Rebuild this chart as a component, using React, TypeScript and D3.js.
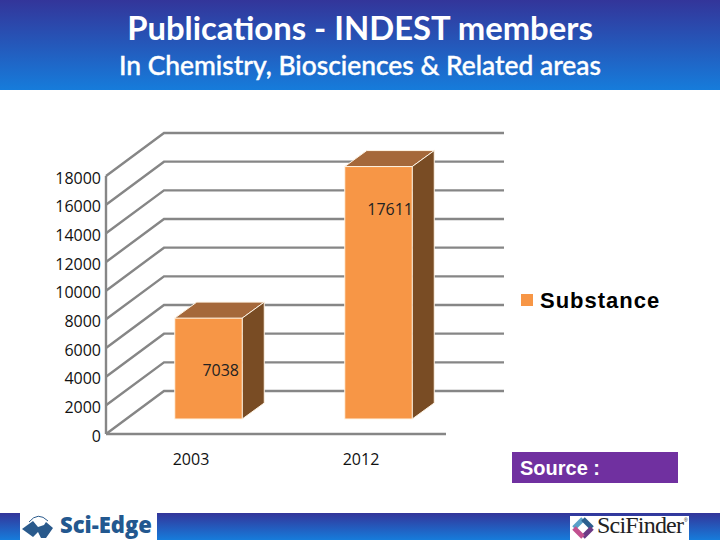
import { useEffect, useRef } from 'react'
import * as d3 from 'd3'

const YEARS = ['2003', '2012']
const SUBSTANCE = [7038, 17611]
const Y_TICKS = [0, 2000, 4000, 6000, 8000, 10000, 12000, 14000, 16000, 18000]
const SERIES_NAME = 'Substance'
const TITLE = 'Publications - INDEST members'
const SUBTITLE = 'In Chemistry, Biosciences & Related areas'

const W = 720
const H = 540
// 3d offset of the back wall, and of the front face of the bars
const DEPTH_X = 58
const DEPTH_Y = -43
const BAR_DX = 17.5
const BAR_DY = -15
const BAR_W = 67.5
const SIDE_X = 22
const SIDE_Y = -16
// data labels were placed by hand in the original
const LABEL_RIGHT = [239, 413]
const LABEL_BASE = [376, 215]

export default function App() {
  const ref = useRef<SVGSVGElement>(null)

  useEffect(() => {
    const svg = d3.select(ref.current)
    svg.selectAll('*').remove()

    const defs = svg.append('defs')
    const grad = defs.append('linearGradient').attr('id', 'band').attr('x2', 0).attr('y2', 1)
    grad.append('stop').attr('offset', '0%').attr('stop-color', '#33359a')
    grad.append('stop').attr('offset', '100%').attr('stop-color', '#167cdb')

    svg.append('rect').attr('width', W).attr('height', H).attr('fill', 'white')

    // header
    svg.append('rect').attr('width', W).attr('height', 90).attr('fill', 'url(#band)')
    svg.append('text').attr('x', 360).attr('y', 40).attr('text-anchor', 'middle')
      .attr('font-family', 'Lato').attr('font-weight', 700).attr('font-size', 32.8)
      .attr('fill', 'white').text(TITLE)
    svg.append('text').attr('x', 360).attr('y', 75).attr('text-anchor', 'middle')
      .attr('font-family', 'Lato').attr('font-weight', 500).attr('font-size', 26.4)
      .attr('fill', 'white').attr('stroke', 'white').attr('stroke-width', 0.4).text(SUBTITLE)

    // scales
    const x = d3.scaleBand().domain(YEARS).range([106, 446])
    const y = d3.scaleLinear().domain([0, 18000]).range([434, 176])

    // walls
    const wall = svg.append('g').attr('stroke', '#868686').attr('stroke-width', 2.4).attr('fill', 'none')
    const x0 = x.range()[0]
    const x1 = x.range()[1]
    Y_TICKS.forEach((t) => {
      wall.append('path').attr('d', d3.line()([
        [x0, y(t)], [x0 + DEPTH_X, y(t) + DEPTH_Y], [x1 + DEPTH_X, y(t) + DEPTH_Y],
      ]))
    })
    wall.append('line').attr('x1', x0).attr('x2', x1).attr('y1', y(0)).attr('y2', y(0))
    wall.append('line').attr('x1', x0).attr('x2', x0).attr('y1', y(0)).attr('y2', y(18000))

    // y tick labels
    svg.append('g').selectAll('text').data(Y_TICKS).join('text')
      .attr('x', 101).attr('y', (d) => y(d) + 2)
      .attr('dy', '0.35em').attr('text-anchor', 'end')
      .attr('font-family', 'Open Sans').attr('font-size', 16).attr('fill', '#111')
      .text((d) => d)

    // bars
    YEARS.forEach((year, i) => {
      const v = SUBSTANCE[i]
      const left = (x(year) as number) + x.bandwidth() / 2 - BAR_W / 2 + BAR_DX
      const right = left + BAR_W
      const top = y(v) + BAR_DY
      const bottom = y(0) + BAR_DY
      const g = svg.append('g').attr('stroke', '#fff5e6').attr('stroke-width', 1)
      g.append('path').attr('fill', '#a5683a')
        .attr('d', d3.line()([[left, top], [left + SIDE_X, top + SIDE_Y], [right + SIDE_X, top + SIDE_Y], [right, top]]))
      g.append('path').attr('fill', '#794c24')
        .attr('d', d3.line()([[right, top], [right + SIDE_X, top + SIDE_Y], [right + SIDE_X, bottom + SIDE_Y], [right, bottom]]))
      g.append('rect').attr('x', left).attr('y', top).attr('width', BAR_W).attr('height', bottom - top)
        .attr('fill', '#f79646')
      svg.append('text').attr('x', LABEL_RIGHT[i]).attr('y', LABEL_BASE[i]).attr('text-anchor', 'end')
        .attr('font-family', 'Open Sans').attr('font-size', 16).attr('fill', '#222')
        .text(v)
    })

    // x labels
    svg.append('g').selectAll('text').data(YEARS).join('text')
      .attr('x', (d) => (x(d) as number) + x.bandwidth() / 2).attr('y', 465)
      .attr('text-anchor', 'middle').attr('font-family', 'Open Sans').attr('font-size', 16)
      .attr('fill', '#111').text((d) => d)

    // legend
    svg.append('rect').attr('x', 521).attr('y', 294).attr('width', 12).attr('height', 12).attr('fill', '#f79646')
    svg.append('text').attr('x', 540).attr('y', 308).attr('font-family', 'Liberation Sans')
      .attr('font-weight', 700).attr('font-size', 22).attr('letter-spacing', 1).attr('fill', '#000').text(SERIES_NAME)

    // source box
    svg.append('rect').attr('x', 512).attr('y', 452).attr('width', 166).attr('height', 31).attr('fill', '#7030a0')
    svg.append('text').attr('x', 520).attr('y', 475).attr('font-family', 'Liberation Sans')
      .attr('font-weight', 700).attr('font-size', 20).attr('fill', 'white').text('Source :')

    // footer
    svg.append('rect').attr('y', 513).attr('width', W).attr('height', 27).attr('fill', 'url(#band)')
    svg.append('rect').attr('x', 20).attr('y', 513).attr('width', 137).attr('height', 27).attr('fill', 'white')
    svg.append('path').attr('fill', '#2a5a8c')
      .attr('d', 'M22 529 L33 521 L38 527 L44 525 L46 522 L53 528 L46 538 L41 538 L38 532 L33 537 Z')
    svg.append('path').attr('fill', 'none').attr('stroke', '#2a5a8c').attr('stroke-width', 1)
      .attr('d', 'M29 522 Q38 511 48 521')
    svg.append('text').attr('x', 60).attr('y', 533).attr('font-family', 'Open Sans')
      .attr('font-weight', 800).attr('font-size', 22).attr('fill', '#23588f').text('Sci-Edge')

    svg.append('rect').attr('x', 570).attr('y', 516).attr('width', 119).attr('height', 24).attr('fill', 'white')
    const diamond = svg.append('g').attr('fill', 'none').attr('stroke-width', 5)
    diamond.append('path').attr('stroke', '#5aa0c8').attr('d', 'M574 528 L583 519')
    diamond.append('path').attr('stroke', '#2b5f8f').attr('d', 'M583 519 L592 528')
    diamond.append('path').attr('stroke', '#6b3a86').attr('d', 'M592 528 L583 537')
    diamond.append('path').attr('stroke', '#c2508f').attr('d', 'M583 537 L574 528')
    svg.append('text').attr('x', 597).attr('y', 533).attr('font-family', 'Liberation Serif')
      .attr('font-size', 24).attr('letter-spacing', -0.8).attr('fill', '#222').text('SciFinder')
    svg.append('text').attr('x', 684).attr('y', 522).attr('font-family', 'Liberation Sans')
      .attr('font-size', 5).attr('fill', '#222').text('®')
  }, [])

  return <svg ref={ref} width={W} height={H} style={{ position: 'absolute', left: 0, top: 0, display: 'block' }} />
}
